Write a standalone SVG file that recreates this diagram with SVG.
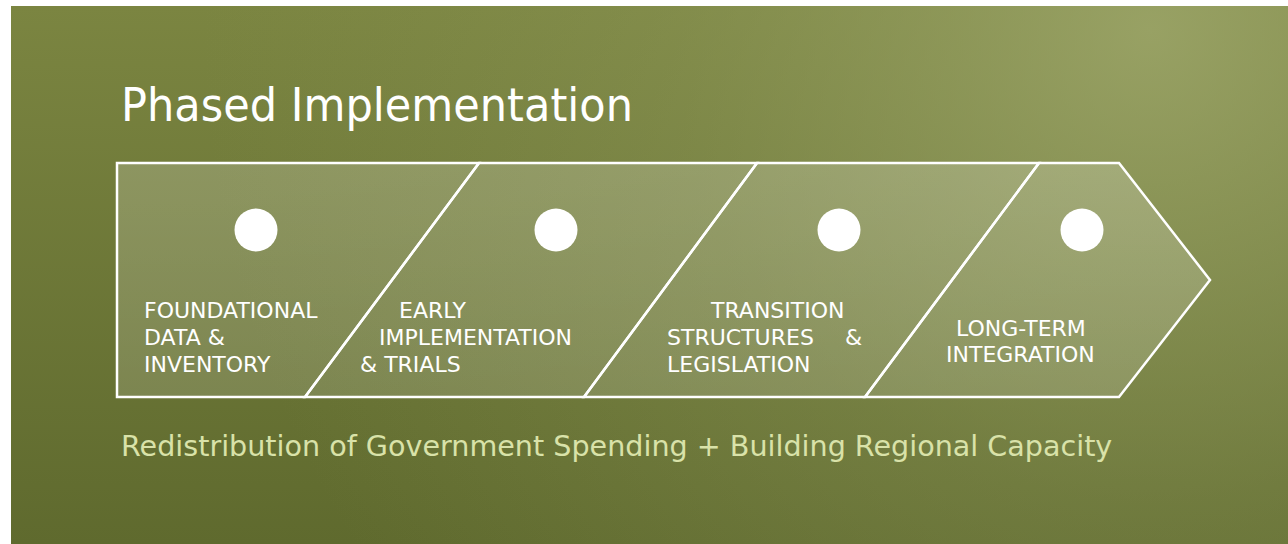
<svg xmlns="http://www.w3.org/2000/svg" width="1288" height="544" viewBox="0 0 1288 544">
  <defs>
    <linearGradient id="bgBase" x1="0" y1="0" x2="0" y2="1">
      <stop offset="0" stop-color="#7b8541"/>
      <stop offset="1" stop-color="#5f6a2e"/>
    </linearGradient>
    <radialGradient id="bgGlow" gradientUnits="userSpaceOnUse" cx="1150" cy="30" r="950">
      <stop offset="0" stop-color="#a2ab70" stop-opacity="0.75"/>
      <stop offset="0.5" stop-color="#949e62" stop-opacity="0.3"/>
      <stop offset="1" stop-color="#8a9456" stop-opacity="0"/>
    </radialGradient>
    <linearGradient id="segFill" gradientUnits="userSpaceOnUse" x1="0" y1="163" x2="0" y2="397">
      <stop offset="0" stop-color="#ffffff" stop-opacity="0.19"/>
      <stop offset="1" stop-color="#ffffff" stop-opacity="0.14"/>
    </linearGradient>
    <style>
      .seg { fill: url(#segFill); stroke: #ffffff; stroke-width: 2.5; stroke-linejoin: miter; }
      .dot { fill: #ffffff; }
      .lbl { font-family: "DejaVu Sans", Verdana, sans-serif; font-size: 22px; fill: #ffffff; }
      .title { font-family: "DejaVu Sans", Verdana, sans-serif; font-size: 46px; fill: #ffffff; }
      .sub { font-family: "DejaVu Sans", Verdana, sans-serif; font-size: 28.6px; fill: #d9e2a9; }
    </style>
  </defs>

  <!-- page margin and backdrop -->
  <rect x="0" y="0" width="1288" height="544" fill="#ffffff"/>
  <rect x="11" y="6" width="1277" height="538" fill="url(#bgBase)"/>
  <rect x="11" y="6" width="1277" height="538" fill="url(#bgGlow)"/>

  <text class="title" x="121" y="121" textLength="512" lengthAdjust="spacingAndGlyphs">Phased Implementation</text>

  <g id="phase-1">
    <polygon class="seg" points="117,163 479,163 305,397 117,397"/>
    <circle class="dot" cx="256" cy="230" r="21.5"/>
    <text class="lbl" x="144" y="318">FOUNDATIONAL</text>
    <text class="lbl" x="144" y="344.5">DATA &amp;</text>
    <text class="lbl" x="144" y="371.5">INVENTORY</text>
  </g>

  <g id="phase-2">
    <polygon class="seg" points="479,163 757,163 584,397 305,397"/>
    <circle class="dot" cx="556" cy="230" r="21.5"/>
    <text class="lbl" x="399" y="318">EARLY</text>
    <text class="lbl" x="379" y="344.5">IMPLEMENTATION</text>
    <text class="lbl" x="360" y="371.5">&amp; TRIALS</text>
  </g>

  <g id="phase-3">
    <polygon class="seg" points="757,163 1039,163 865,397 584,397"/>
    <circle class="dot" cx="839" cy="230" r="21.5"/>
    <text class="lbl" x="711" y="318">TRANSITION</text>
    <text class="lbl" x="667" y="344.5">STRUCTURES</text>
    <text class="lbl" x="845" y="344.5">&amp;</text>
    <text class="lbl" x="667" y="371.5">LEGISLATION</text>
  </g>

  <g id="phase-4">
    <polygon class="seg" points="1039,163 1119,163 1210,280 1119,397 865,397"/>
    <circle class="dot" cx="1082" cy="230" r="21.5"/>
    <text class="lbl" x="956" y="335.5">LONG-TERM</text>
    <text class="lbl" x="946" y="362">INTEGRATION</text>
  </g>

  <text class="sub" x="121" y="456">Redistribution of Government Spending + Building Regional Capacity</text>
</svg>
